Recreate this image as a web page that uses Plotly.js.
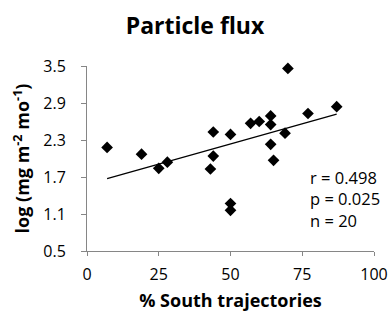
<!DOCTYPE html>
<html>
<head>
<meta charset="utf-8">
<script src="https://cdn.plot.ly/plotly-3.0.1.min.js"></script>
<style>html,body{margin:0;padding:0;background:#fff;}#chart{width:390px;height:317px;}</style>
</head>
<body>
<div id="chart"></div>
<script>
var southPct = [7, 19, 25, 28, 43, 44, 44, 50, 50, 50, 57, 60, 64, 64, 64, 65, 69, 70, 77, 87];
var logFlux = [2.18, 2.07, 1.84, 1.94, 1.83, 2.43, 2.04, 2.39, 1.27, 1.16, 2.57, 2.60, 2.69, 2.55, 2.23, 1.97, 2.41, 3.46, 2.73, 2.84];
var statsLines = ["r = 0.498", "p = 0.025", "n = 20"];
var yTicks = [0.5, 1.1, 1.7, 2.3, 2.9, 3.5];
var xTicks = [0, 25, 50, 75, 100];

// least-squares trend line computed from the data
var n = southPct.length, mx = 0, my = 0;
for (var i = 0; i < n; i++) { mx += southPct[i]; my += logFlux[i]; }
mx /= n; my /= n;
var sxy = 0, sxx = 0;
for (var i = 0; i < n; i++) { sxy += (southPct[i]-mx)*(logFlux[i]-my); sxx += (southPct[i]-mx)*(southPct[i]-mx); }
var slope = sxy/sxx, icpt = my - slope*mx;
var xmin = Math.min.apply(null, southPct), xmax = Math.max.apply(null, southPct);

var font = "'Open Sans', sans-serif";
var data = [
  {x: [xmin, xmax], y: [icpt + slope*xmin, icpt + slope*xmax], mode: 'lines', type: 'scatter',
   line: {color: '#000', width: 1.2}, hoverinfo: 'skip', showlegend: false},
  {x: southPct, y: logFlux, mode: 'markers', type: 'scatter', cliponaxis: false,
   marker: {symbol: 'diamond', size: 9, color: '#000'}, showlegend: false}
];
var pw = 390 - 87 - 16, ph = 317 - 66 - 66;
var layout = {
  width: 390, height: 317,
  margin: {l: 87, r: 16, t: 66, b: 66},
  paper_bgcolor: '#fff', plot_bgcolor: '#fff',
  font: {family: font, color: '#000'},
  title: {text: '<b>Particle flux</b>', font: {size: 23, family: font, color: '#000'}, x: 0.5, xanchor: 'center', y: 1 - 26/317, yanchor: 'middle', yref: 'container'},
  xaxis: {range: [0, 100], tickvals: xTicks, ticktext: xTicks.map(String), showgrid: false, zeroline: false,
    automargin: false,
    showline: true, linecolor: '#868686', linewidth: 1, ticks: 'outside', ticklen: 4, tickcolor: '#868686',
    ticklabelstandoff: 5,
    tickfont: {size: 16, color: '#000'},
    title: {text: '<b>% South trajectories</b>', font: {size: 18, color: '#000'}, standoff: 10}},
  yaxis: {range: [0.5, 3.5], tickvals: yTicks, ticktext: yTicks.map(function(v){return v.toFixed(1);}), showgrid: false, zeroline: false,
    automargin: false,
    showline: true, linecolor: '#868686', linewidth: 1, ticks: 'outside', ticklen: 5, tickcolor: '#868686',
    ticklabelstandoff: 12,
    tickfont: {size: 16, color: '#000'},
    title: {text: '<b>log (mg m<sup>-2</sup> mo<sup>-1</sup>)</b>', font: {size: 18, color: '#000'}, standoff: 8}},
  annotations: [{x: (308 - 87) / pw, y: (251 - 164) / ph, xref: 'paper', yref: 'paper', text: statsLines.join('<br>'), showarrow: false,
    align: 'left', xanchor: 'left', yanchor: 'top', font: {size: 16.5, color: '#000'}}]
};
Plotly.newPlot('chart', data, layout, {displayModeBar: false, staticPlot: true});
</script>
</body>
</html>
